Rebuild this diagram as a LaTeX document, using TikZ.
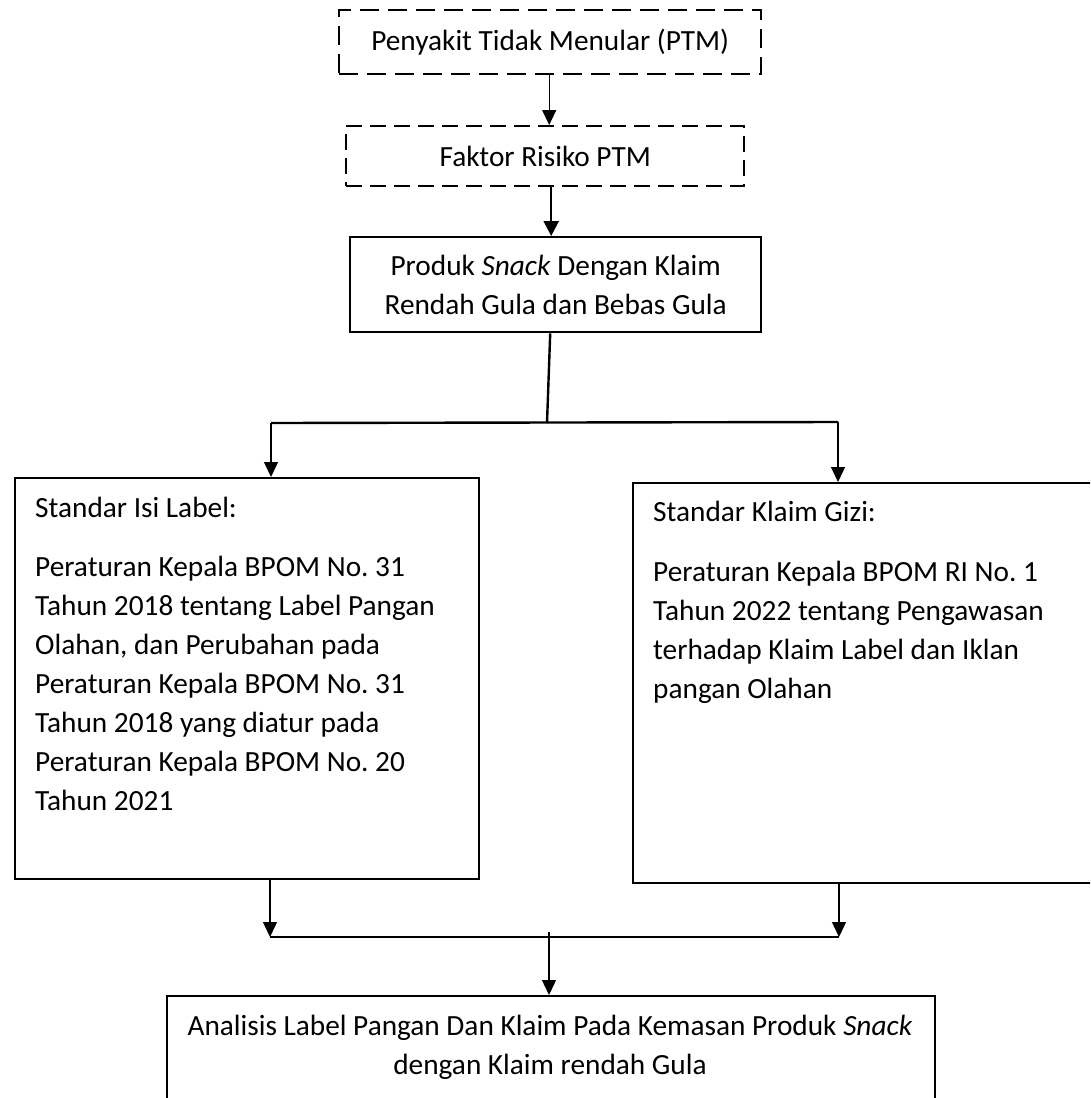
\documentclass[tikz,border=0pt]{standalone}
\usepackage{fontspec}
\setmainfont{Carlito}
\usetikzlibrary{arrows.meta}
\begin{document}
\frenchspacing
\begin{tikzpicture}[x=1pt,y=-1pt,
  box/.style={draw, line width=2.4pt, inner sep=0pt, anchor=north west},
  dbox/.style={box, dash pattern=on 19pt off 9pt},
  txt/.style={font=\fontsize{29.3}{39}\selectfont\frenchspacing, inner sep=0pt},
  arr/.style={line width=1.3pt, -{Triangle[width=14pt,length=15pt]}},
  barr/.style={line width=2.4pt, -{Triangle[width=15pt,length=15pt]}},
  hline/.style={line width=2.4pt}]
\useasboundingbox (0,0) rectangle (1090,1098);
\clip (0,0) rectangle (1090,1098);
% boxes
\node[dbox, txt, minimum width=422pt, minimum height=64pt] (b1) at (338,9) {Penyakit Tidak Menular (PTM)};
\node[dbox, txt, dash pattern=on 16pt off 8pt, minimum width=398pt, minimum height=60pt] (b2) at (345,125) {Faktor Risiko PTM};
\node[box, txt, align=center, minimum width=411pt, minimum height=95pt] (b3) at (349,236) {Produk \textit{Snack} Dengan Klaim\\Rendah Gula dan Bebas Gula};
\node[box, minimum width=464pt, minimum height=401pt] (lb) at (14,477) {};
\node[box, minimum width=480pt, minimum height=400pt] (rb) at (632,482) {};
\node[box, minimum width=768pt, minimum height=140pt] (bb) at (166,995) {};
% texts
\node[txt, anchor=base west] (lh) at (35,517) {Standar Isi Label:};
\node[txt, anchor=base west, align=flush left, text width=440pt] (lt) at (35,576) {Peraturan Kepala BPOM No. 31\\Tahun 2018 tentang Label Pangan\\Olahan, dan Perubahan pada\\Peraturan Kepala BPOM No. 31\\Tahun 2018 yang diatur pada\\Peraturan Kepala BPOM No. 20\\Tahun 2021};
\node[txt, anchor=base west] (rh) at (653,521) {Standar Klaim Gizi:};
\node[txt, anchor=base west, align=flush left, text width=430pt] (rt) at (653,581) {Peraturan Kepala BPOM RI No. 1\\Tahun 2022 tentang Pengawasan\\terhadap Klaim Label dan Iklan\\pangan Olahan};
\node[txt, anchor=base, align=flush center, text width=760pt] (bt) at (550,1035) {Analisis Label Pangan Dan Klaim Pada Kemasan Produk \textit{Snack}\\dengan Klaim rendah Gula};
% junctions
\coordinate (j1) at (547,423);
\coordinate (jl) at (271,423);
\coordinate (jr) at (838,422);
\coordinate (jbl) at (270,937);
\coordinate (jbr) at (839,937);
\coordinate (jbm) at (549,932);
% connectors
\draw[arr] ([xshift=-1pt]b1.south) -- ([xshift=-1pt]b1.south |- b2.north);
\draw[barr] ([xshift=-4.5pt]b3.north |- b2.south) -- ([xshift=-4.5pt]b3.north);
\draw[hline] ([xshift=-5.5pt]b3.south) -- (j1);
\draw[hline] (jl) -- (jr);
\draw[arr] (jl) -- (jl |- lb.north);
\draw[arr] (jr) -- (jr |- rb.north);
\draw[arr] (jbl |- lb.south) -- (jbl);
\draw[arr] (jbr |- rb.south) -- (jbr);
\draw[hline] (jbl) -- (jbr);
\draw[arr] (jbm) -- (jbm |- bb.north);
\end{tikzpicture}
\end{document}
